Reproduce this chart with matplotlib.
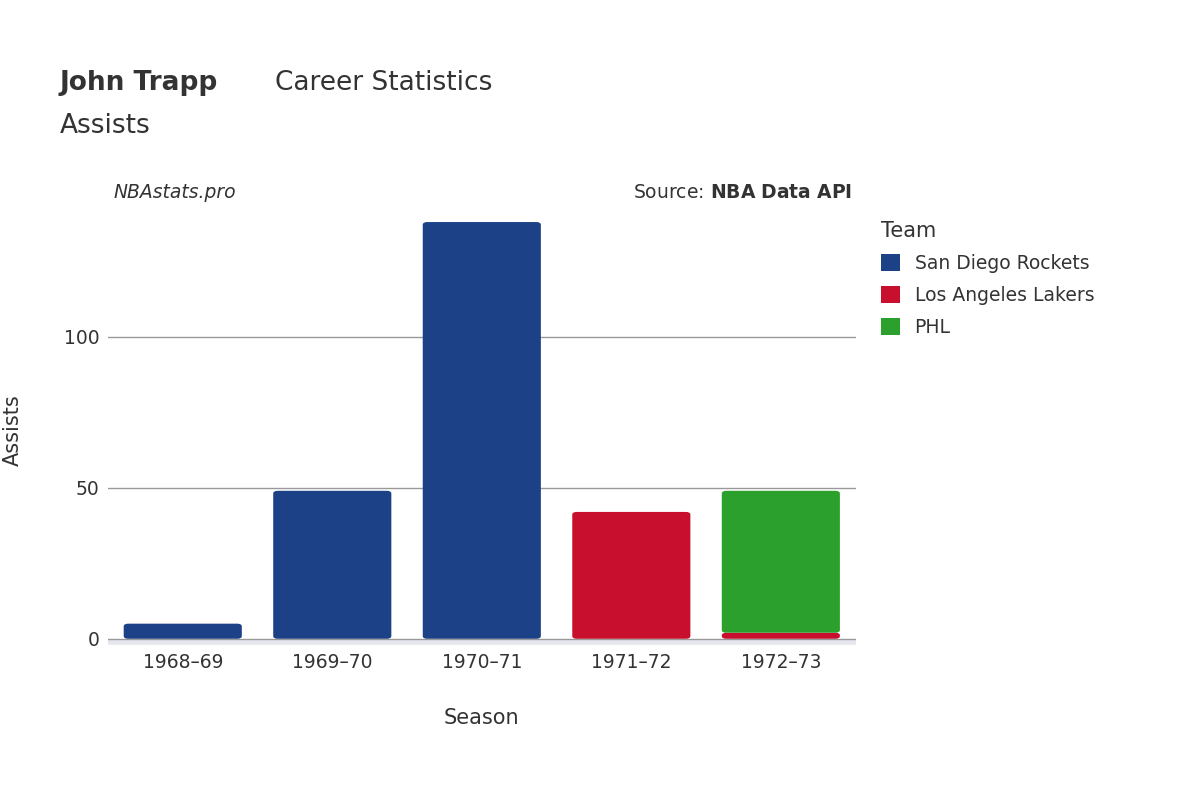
import matplotlib
matplotlib.use("Agg")
import matplotlib.pyplot as plt
from matplotlib.patches import FancyBboxPatch

seasons = ["1968–69", "1969–70", "1970–71", "1971–72", "1972–73"]
teams = ["San Diego Rockets", "Los Angeles Lakers", "PHL"]
colors = ["#1c4187", "#c8102e", "#2ca02c"]
values = {
    "San Diego Rockets": [5, 49, 138, 0, 0],
    "Los Angeles Lakers": [0, 0, 0, 42, 2],
    "PHL": [0, 0, 0, 0, 47],
}

fig = plt.figure(figsize=(12, 8), dpi=100)
ax = fig.add_axes([0.09, 0.194, 0.623, 0.5375])
ax.set_xlim(-0.5, 4.5)
ax.set_ylim(-2, 140.4)

bottoms = [0] * len(seasons)
w = 0.79
for team, c in zip(teams, colors):
    for i, v in enumerate(values[team]):
        if v > 0:
            p = FancyBboxPatch((i - w / 2, bottoms[i]), w, v,
                               boxstyle="round,pad=0,rounding_size=0.03",
                               mutation_aspect=30, fc=c, ec="none", zorder=3)
            ax.add_patch(p)
            bottoms[i] += v
    ax.bar([0], [0], color=c, label=team)

ax.set_yticks([0, 50, 100])
ax.grid(axis="y", color="#999999", linewidth=1, zorder=0)
ax.axhline(-1, color="#e6e6ee", linewidth=4, zorder=1)
for s in ax.spines.values():
    s.set_visible(False)
ax.set_xticks(range(len(seasons)))
ax.set_xticklabels(seasons)
ax.tick_params(length=0, labelsize=13.5, colors="#333333", pad=6)
ax.set_xlabel("Season", fontsize=15, color="#333333", labelpad=26)
ax.set_ylabel("Assists", fontsize=15, color="#333333", labelpad=30)

fig.text(0.05, 0.888, "John Trapp", fontsize=19, fontweight="bold", color="#333333")
fig.text(0.229, 0.888, "Career Statistics", fontsize=19, color="#333333")
fig.text(0.05, 0.834, "Assists", fontsize=19, color="#333333")
fig.text(0.095, 0.752, "NBAstats.pro", fontsize=13.5, style="italic", color="#333333")
fig.text(0.71, 0.752, "Source: $\\bf{NBA\\ Data\\ API}$", fontsize=13.5, color="#333333", ha="right")

leg = fig.legend(loc="upper left", bbox_to_anchor=(0.72, 0.745), frameon=False,
                 title="Team", fontsize=13.5, title_fontsize=15, handlelength=1,
                 handleheight=1, labelspacing=0.7, alignment="left")
for t in leg.get_texts():
    t.set_color("#333333")
leg.get_title().set_color("#333333")
fig.savefig("out.png")
